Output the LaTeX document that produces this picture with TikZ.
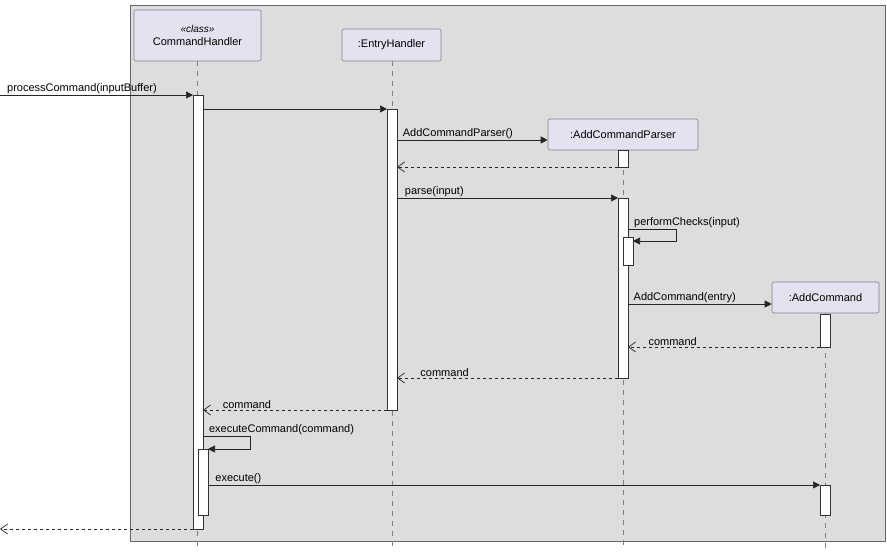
\documentclass[tikz,border=0pt]{standalone}
\usepackage{fontspec}
\setmainfont{Liberation Sans}
\usetikzlibrary{arrows.meta}
\definecolor{bg}{HTML}{DDDDDD}
\definecolor{part}{HTML}{E2E2F0}
\definecolor{partb}{HTML}{7F7F8F}
\begin{document}
\begin{tikzpicture}[x=1pt,y=-1pt,
  font=\fontsize{11}{13}\selectfont,
  part/.style={draw=partb,fill=part,rounded corners=2pt,line width=0.6pt},
  act/.style={draw=black!80,fill=white,line width=0.6pt},
  life/.style={draw=gray,dashed,dash pattern=on 5pt off 5pt,line width=0.6pt},
  msg/.style={draw=black!85,line width=0.7pt,-{Triangle[length=7pt,width=7pt]}},
  ret/.style={draw=black!85,line width=0.7pt,dash pattern=on 3pt off 3pt,-{Straight Barb[length=7pt,width=10pt]}},
  lbl/.style={anchor=south west,inner sep=1pt}]
\useasboundingbox (0,0) rectangle (887,553);
\draw[draw=gray!80!black,fill=bg] (130,5) rectangle (885,541);
% lifelines
\draw[life] (197,61) -- (197,548);
\draw[life] (392,61) -- (392,548);
\draw[life] (623,150) -- (623,548);
\draw[life] (825,313) -- (825,548);
% participants
\node[part,minimum width=127pt,minimum height=51pt,align=center] (ch) at (197.5,35.5) {\textit{\fontsize{10}{12}\selectfont «class»}\\CommandHandler};
\node[part,minimum width=99pt,minimum height=32pt] (eh) at (391.5,45) {:EntryHandler};
\node[part,minimum width=150pt,minimum height=31pt] (acp) at (623,134.5) {:AddCommandParser};
\node[part,minimum width=107pt,minimum height=31pt] (ac) at (825.5,297.5) {:AddCommand};
% activations
\draw[act] (193,95) rectangle (203,529);
\draw[act] (198,449) rectangle (208,515);
\draw[act] (387,109) rectangle (397,410);
\draw[act] (618,150) rectangle (628,167);
\draw[act] (618,198) rectangle (628,378);
\draw[act] (623,237) rectangle (633,265);
\draw[act] (820,314) rectangle (830,347);
\draw[act] (820,485) rectangle (830,515);
% coordinates
\coordinate (in) at (0,95); \coordinate (chA) at (193,95);
\coordinate (out) at (0,529); \coordinate (chZ) at (193,529);
% messages
\draw[msg] (in) -- node[lbl,pos=0.03]{processCommand(inputBuffer)} (chA);
\draw[msg] (203,109) -- (387,109);
\draw[msg] (397,140) -- node[lbl,pos=0.03]{AddCommandParser()} (acp.west|-0,140);
\draw[ret] (618,167) -- (397,167);
\draw[msg] (397,198) -- node[lbl,pos=0.03]{parse(input)} (618,198);
\draw[msg] (628,229) -- node[lbl,pos=0.1]{performChecks(input)} (676,229) -- (676,241) -- (633,241);
\draw[msg] (628,304) -- node[lbl,pos=0.03]{AddCommand(entry)} (ac.west|-0,304);
\draw[ret] (820,347) -- node[lbl,pos=0.9]{command} (628,347);
\draw[ret] (618,378) -- node[lbl,pos=0.9]{command} (397,378);
\draw[ret] (387,410) -- node[lbl,pos=0.9]{command} (203,410);
\draw[msg] (203,436) -- node[lbl,pos=0.1]{executeCommand(command)} (250,436) -- (250,449) -- (208,449);
\draw[msg] (208,485) -- node[lbl,pos=0.01]{execute()} (820,485);
\draw[ret] (chZ) -- (out);
\end{tikzpicture}
\end{document}
